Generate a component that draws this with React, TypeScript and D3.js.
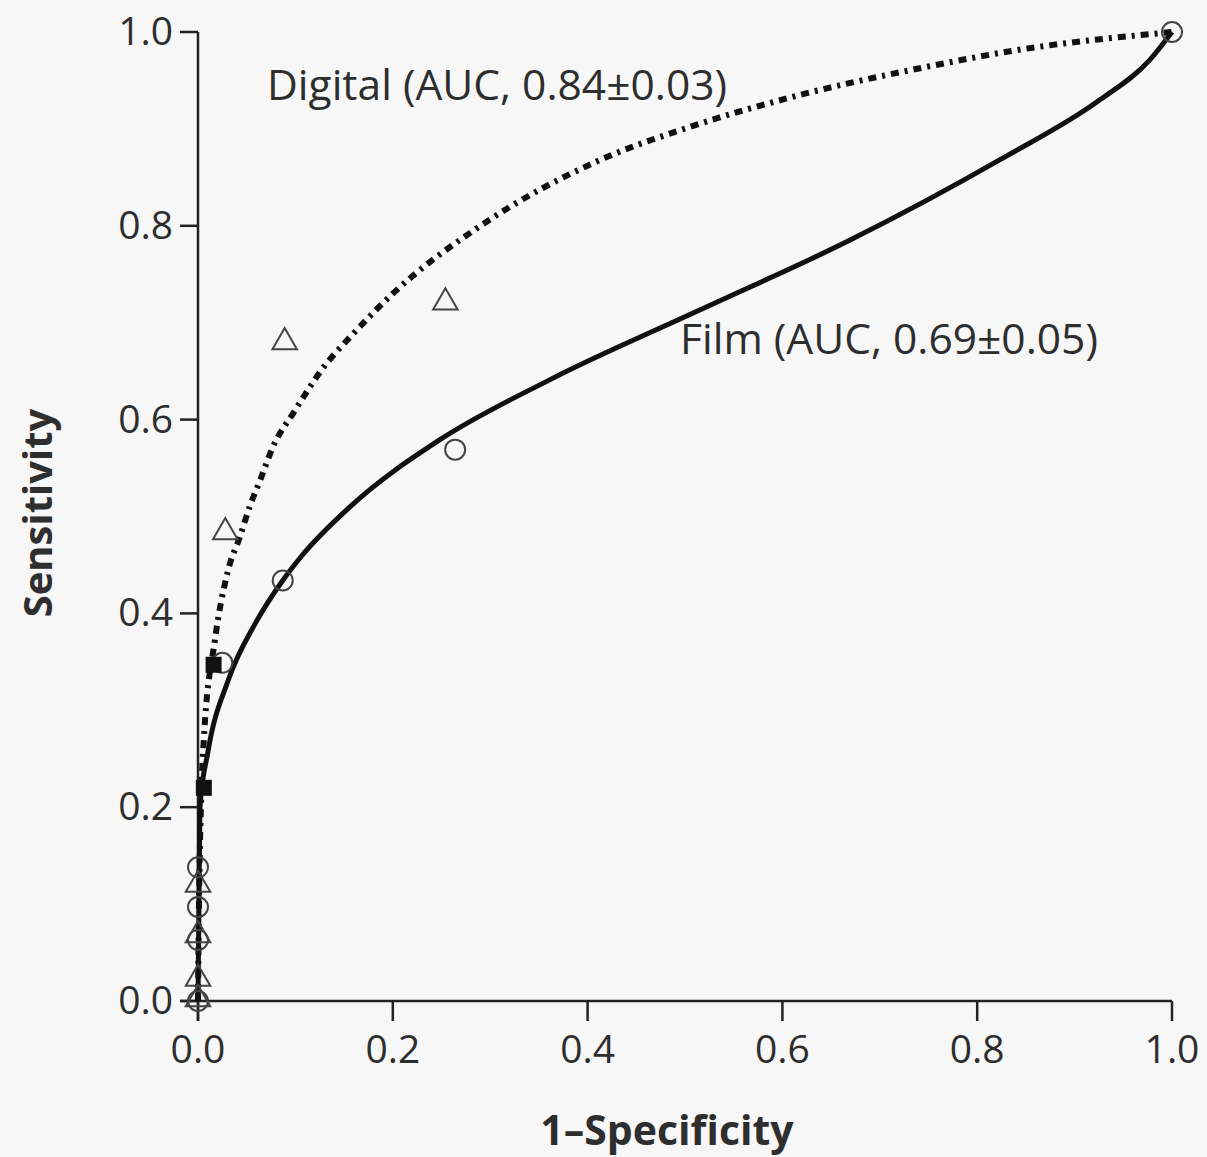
import React from "react";
import * as d3 from "d3";

const xTicks = [0, 0.2, 0.4, 0.6, 0.8, 1.0];
const yTicks = [0, 0.2, 0.4, 0.6, 0.8, 1.0];

const digitalCurve: [number, number][] = [
  [0, 0], [0.001, 0.1], [0.003, 0.2], [0.006, 0.27], [0.017, 0.37], [0.031, 0.445],
  [0.043, 0.479], [0.053, 0.51], [0.064, 0.538], [0.077, 0.572], [0.098, 0.607],
  [0.132, 0.658], [0.156, 0.685], [0.2, 0.73], [0.29, 0.8], [0.413, 0.868],
  [0.505, 0.902], [0.618, 0.935], [0.748, 0.964], [0.839, 0.981], [1, 1],
];

const filmCurve: [number, number][] = [
  [0, 0], [0.001, 0.1], [0.002, 0.2], [0.01, 0.256], [0.031, 0.331], [0.059, 0.39],
  [0.087, 0.434], [0.107, 0.46], [0.156, 0.51], [0.248, 0.579], [0.361, 0.641],
  [0.515, 0.713], [0.669, 0.785], [0.823, 0.868], [0.926, 0.93], [0.977, 0.971], [1, 1],
];

const digitalPoints: [number, number][] = [
  [0, 0.004], [0, 0.025], [0, 0.07], [0, 0.122], [0.028, 0.486], [0.089, 0.682], [0.254, 0.723],
];
const filmPoints: [number, number][] = [
  [0, 0.0], [0, 0.063], [0, 0.097], [0, 0.138], [0.025, 0.349], [0.087, 0.434], [0.264, 0.569], [1, 1],
];
const squarePoints: [number, number][] = [[0.016, 0.347], [0.006, 0.22]];

const W = 1207, H = 1157;
const X0 = 198, X1 = 1172, Y0 = 1001, Y1 = 32;
const textColor = "#2e2e2e";
const font = "'Open Sans', 'Noto Sans', sans-serif";

export default function App() {
  const x = d3.scaleLinear().domain([0, 1]).range([X0, X1]);
  const y = d3.scaleLinear().domain([0, 1]).range([Y0, Y1]);
  const line = d3.line<[number, number]>().x(d => x(d[0])).y(d => y(d[1])).curve(d3.curveMonotoneX);
  const tri = d3.symbol().type(d3.symbolTriangle).size(260)();
  return (
    <div style={{ position: "absolute", left: 0, top: 0 }}>
      <svg width={W} height={H} style={{ display: "block", background: "#f7f7f7" }}>
        <rect x={0} y={0} width={W} height={H} fill="#f7f7f7" />
        {/* axes */}
        <line x1={x(0)} x2={x(0)} y1={Y1} y2={Y0 + 20} stroke="#222" strokeWidth={2.5} />
        <line x1={X0 - 18} x2={X1} y1={Y0} y2={Y0} stroke="#222" strokeWidth={2.5} />
        {yTicks.map(t => (
          <g key={"y" + t}>
            <line x1={X0 - 18} x2={X0} y1={y(t)} y2={y(t)} stroke="#222" strokeWidth={2.5} />
            <text x={X0 - 25} y={y(t) + 13} textAnchor="end" fontSize={39} fill={textColor} fontFamily={font}>{t.toFixed(1)}</text>
          </g>
        ))}
        {xTicks.map(t => (
          <g key={"x" + t}>
            <line x1={x(t)} x2={x(t)} y1={Y0} y2={Y0 + 20} stroke="#222" strokeWidth={2.5} />
            <text x={x(t)} y={Y0 + 62} textAnchor="middle" fontSize={39} fill={textColor} fontFamily={font}>{t.toFixed(1)}</text>
          </g>
        ))}
        <text x={667} y={1145} textAnchor="middle" fontSize={41} fontWeight="bold" fill={textColor} fontFamily={font}>1–Specificity</text>
        <text transform={`translate(52,513) rotate(-90)`} textAnchor="middle" fontSize={40} fontWeight="bold" fill={textColor} fontFamily={font}>Sensitivity</text>
        {/* curves */}
        <path d={line(filmCurve) || ""} fill="none" stroke="#111" strokeWidth={5} />
        <path d={line(digitalCurve) || ""} fill="none" stroke="#111" strokeWidth={6} strokeDasharray="8 6 3 6" />
        {/* markers */}
        {digitalPoints.map((p, i) => (
          <path key={"t" + i} d={tri || ""} transform={`translate(${x(p[0])},${y(p[1]) + 2})`} fill="none" stroke="#444" strokeWidth={2} />
        ))}
        {filmPoints.map((p, i) => (
          <circle key={"c" + i} cx={x(p[0])} cy={y(p[1])} r={10} fill="none" stroke="#444" strokeWidth={2} />
        ))}
        {squarePoints.map((p, i) => (
          <rect key={"s" + i} x={x(p[0]) - 8} y={y(p[1]) - 8} width={16} height={16} fill="#111" />
        ))}
        {/* labels */}
        <text x={267} y={100} fontSize={42.5} fill={textColor} fontFamily={font}>Digital (AUC, 0.84±0.03)</text>
        <text x={680} y={354} fontSize={42.5} fill={textColor} fontFamily={font}>Film (AUC, 0.69±0.05)</text>
      </svg>
    </div>
  );
}
